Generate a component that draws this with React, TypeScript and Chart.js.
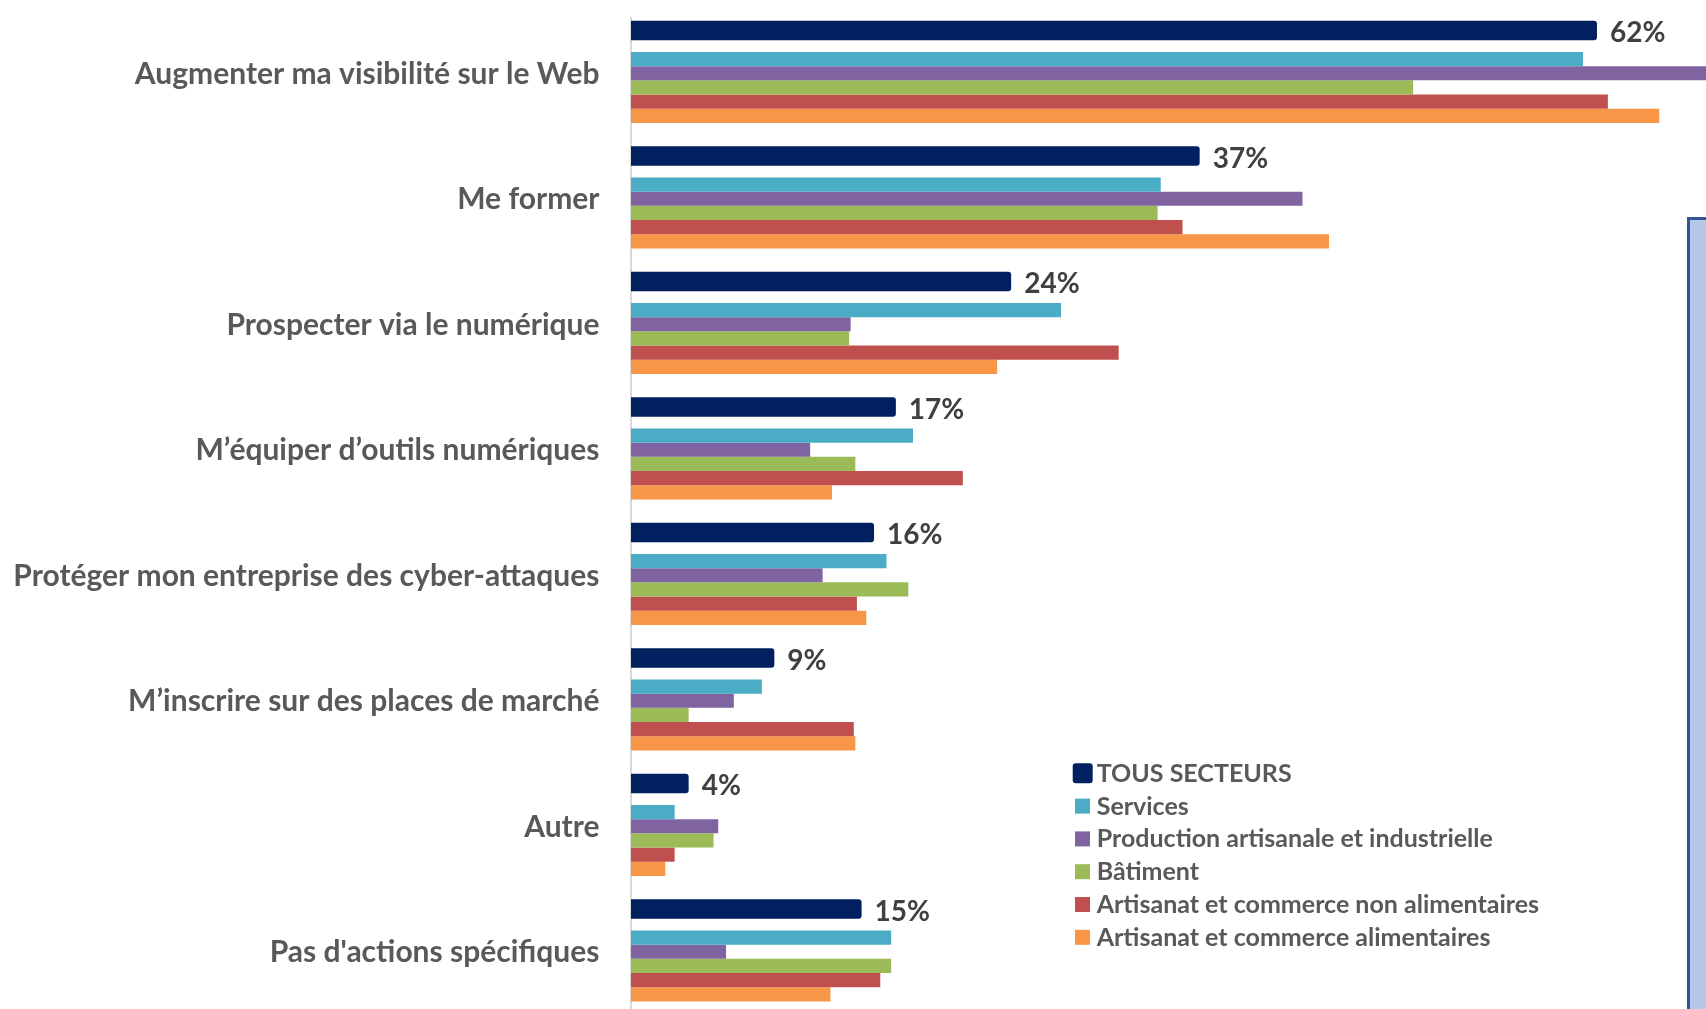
import React, { useEffect, useRef } from "react";
import { Chart, registerables } from "chart.js";

Chart.register(...registerables);

// ---- Data ----
const categories = [
  "Augmenter ma visibilité sur le Web",
  "Me former",
  "Prospecter via le numérique",
  "M’équiper d’outils numériques",
  "Protéger mon entreprise des cyber-attaques",
  "M’inscrire sur des places de marché",
  "Autre",
  "Pas d'actions spécifiques",
];

const seriesNames = [
  "TOUS SECTEURS",
  "Services",
  "Production artisanale et industrielle",
  "Bâtiment",
  "Artisanat et commerce non alimentaires",
  "Artisanat et commerce alimentaires",
];

const tousSecteurs = [62, 36.5, 24.4, 17.0, 15.6, 9.2, 3.7, 14.8];
const services = [61.1, 34.0, 27.6, 18.1, 16.4, 8.4, 2.8, 16.7];
const production = [72, 43.1, 14.1, 11.5, 12.3, 6.6, 5.6, 6.1];
const batiment = [50.2, 33.8, 14.0, 14.4, 17.8, 3.7, 5.3, 16.7];
const nonAlimentaires = [62.7, 35.4, 31.3, 21.3, 14.5, 14.3, 2.8, 16.0];
const alimentaires = [66.0, 44.8, 23.5, 12.9, 15.1, 14.4, 2.2, 12.8];

const seriesColors = ["#002060", "#4BACC6", "#8064A2", "#9BBB59", "#C0504D", "#F79646"];

const FONT = "Lato, 'Noto Sans', sans-serif";

const valueLabels = {
  id: "valueLabels",
  afterDatasetsDraw(chart: any) {
    const meta = chart.getDatasetMeta(0);
    const ctx = chart.ctx;
    ctx.save();
    ctx.font = `bold 28px ${FONT}`;
    ctx.fillStyle = "#404040";
    ctx.textAlign = "left";
    ctx.textBaseline = "middle";
    meta.data.forEach((el: any, i: number) => {
      const v = chart.data.datasets[0].data[i] as number;
      ctx.fillText(Math.round(v) + "%", el.x + 13, el.y + 3);
    });
    ctx.restore();
  },
};

const canvasLegend = {
  id: "canvasLegend",
  afterDraw(chart: any) {
    const ctx = chart.ctx;
    ctx.save();
    const x0 = 1075;
    const y0 = 773.3;
    const step = 32.8;
    ctx.font = `bold 25px ${FONT}`;
    ctx.textAlign = "left";
    ctx.textBaseline = "alphabetic";
    chart.data.datasets.forEach((ds: any, i: number) => {
      const cy = y0 + i * step;
      ctx.fillStyle = ds.backgroundColor;
      if (i === 0) {
        ctx.beginPath();
        (ctx as any).roundRect(x0 - 2.3, cy - 10, 20, 20, 3);
        ctx.fill();
      } else {
        ctx.fillRect(x0, cy - 7.5, 15, 15);
      }
      ctx.fillStyle = "#595959";
      ctx.fillText(ds.label, x0 + 21.7, cy + 8.5);
    });
    ctx.restore();
  },
};

export default function App() {
  const ref = useRef<HTMLCanvasElement | null>(null);

  useEffect(() => {
    if (!ref.current) return;
    const seriesData = [tousSecteurs, services, production, batiment, nonAlimentaires, alimentaires];
    const chart = new Chart(ref.current, {
      type: "bar",
      data: {
        labels: categories,
        datasets: seriesData.map((d, i) => ({
          label: seriesNames[i],
          data: d,
          backgroundColor: seriesColors[i],
          borderWidth: 0,
          categoryPercentage: i === 0 ? 0.9543 : 0.6789,
          barPercentage: i === 0 ? 0.982 : 1.0,
          borderRadius: i === 0 ? 3 : 0,
        })),
      },
      options: {
        indexAxis: "y",
        responsive: false,
        animation: false,
        devicePixelRatio: 1,
        layout: { padding: { top: 17.6, bottom: 8.4, left: 0, right: 8.4 } },
        plugins: { legend: { display: false }, tooltip: { enabled: false } },
        scales: {
          x: { display: false, min: 0, max: 70 },
          y: {
            grid: { display: false, drawTicks: false },
            border: { display: true, color: "#D9D9D9", width: 2 },
            ticks: {
              autoSkip: false,
              padding: 31.5,
              labelOffset: -6.5,
              color: "#595959",
              font: { family: FONT, weight: "bold", size: 30 },
            },
            afterFit: (s: any) => {
              s.width = 631;
              s.paddingTop = 0;
              s.paddingBottom = 0;
            },
          },
        },
      },
      plugins: [valueLabels, canvasLegend],
    } as any);
    return () => chart.destroy();
  }, []);

  return (
    <div
      style={{
        position: "fixed",
        left: 0,
        top: 0,
        width: 1706,
        height: 1009,
        overflow: "hidden",
        background: "#FFFFFF",
      }}
    >
      <canvas ref={ref} width={1730} height={1030} style={{ display: "block" }} />
      <div
        style={{
          position: "absolute",
          left: 1687,
          top: 217,
          width: 60,
          height: 900,
          boxSizing: "border-box",
          borderLeft: "3px solid #2F5597",
          borderTop: "3px solid #2F5597",
          background: "#B4C7E7",
        }}
      />
    </div>
  );
}
